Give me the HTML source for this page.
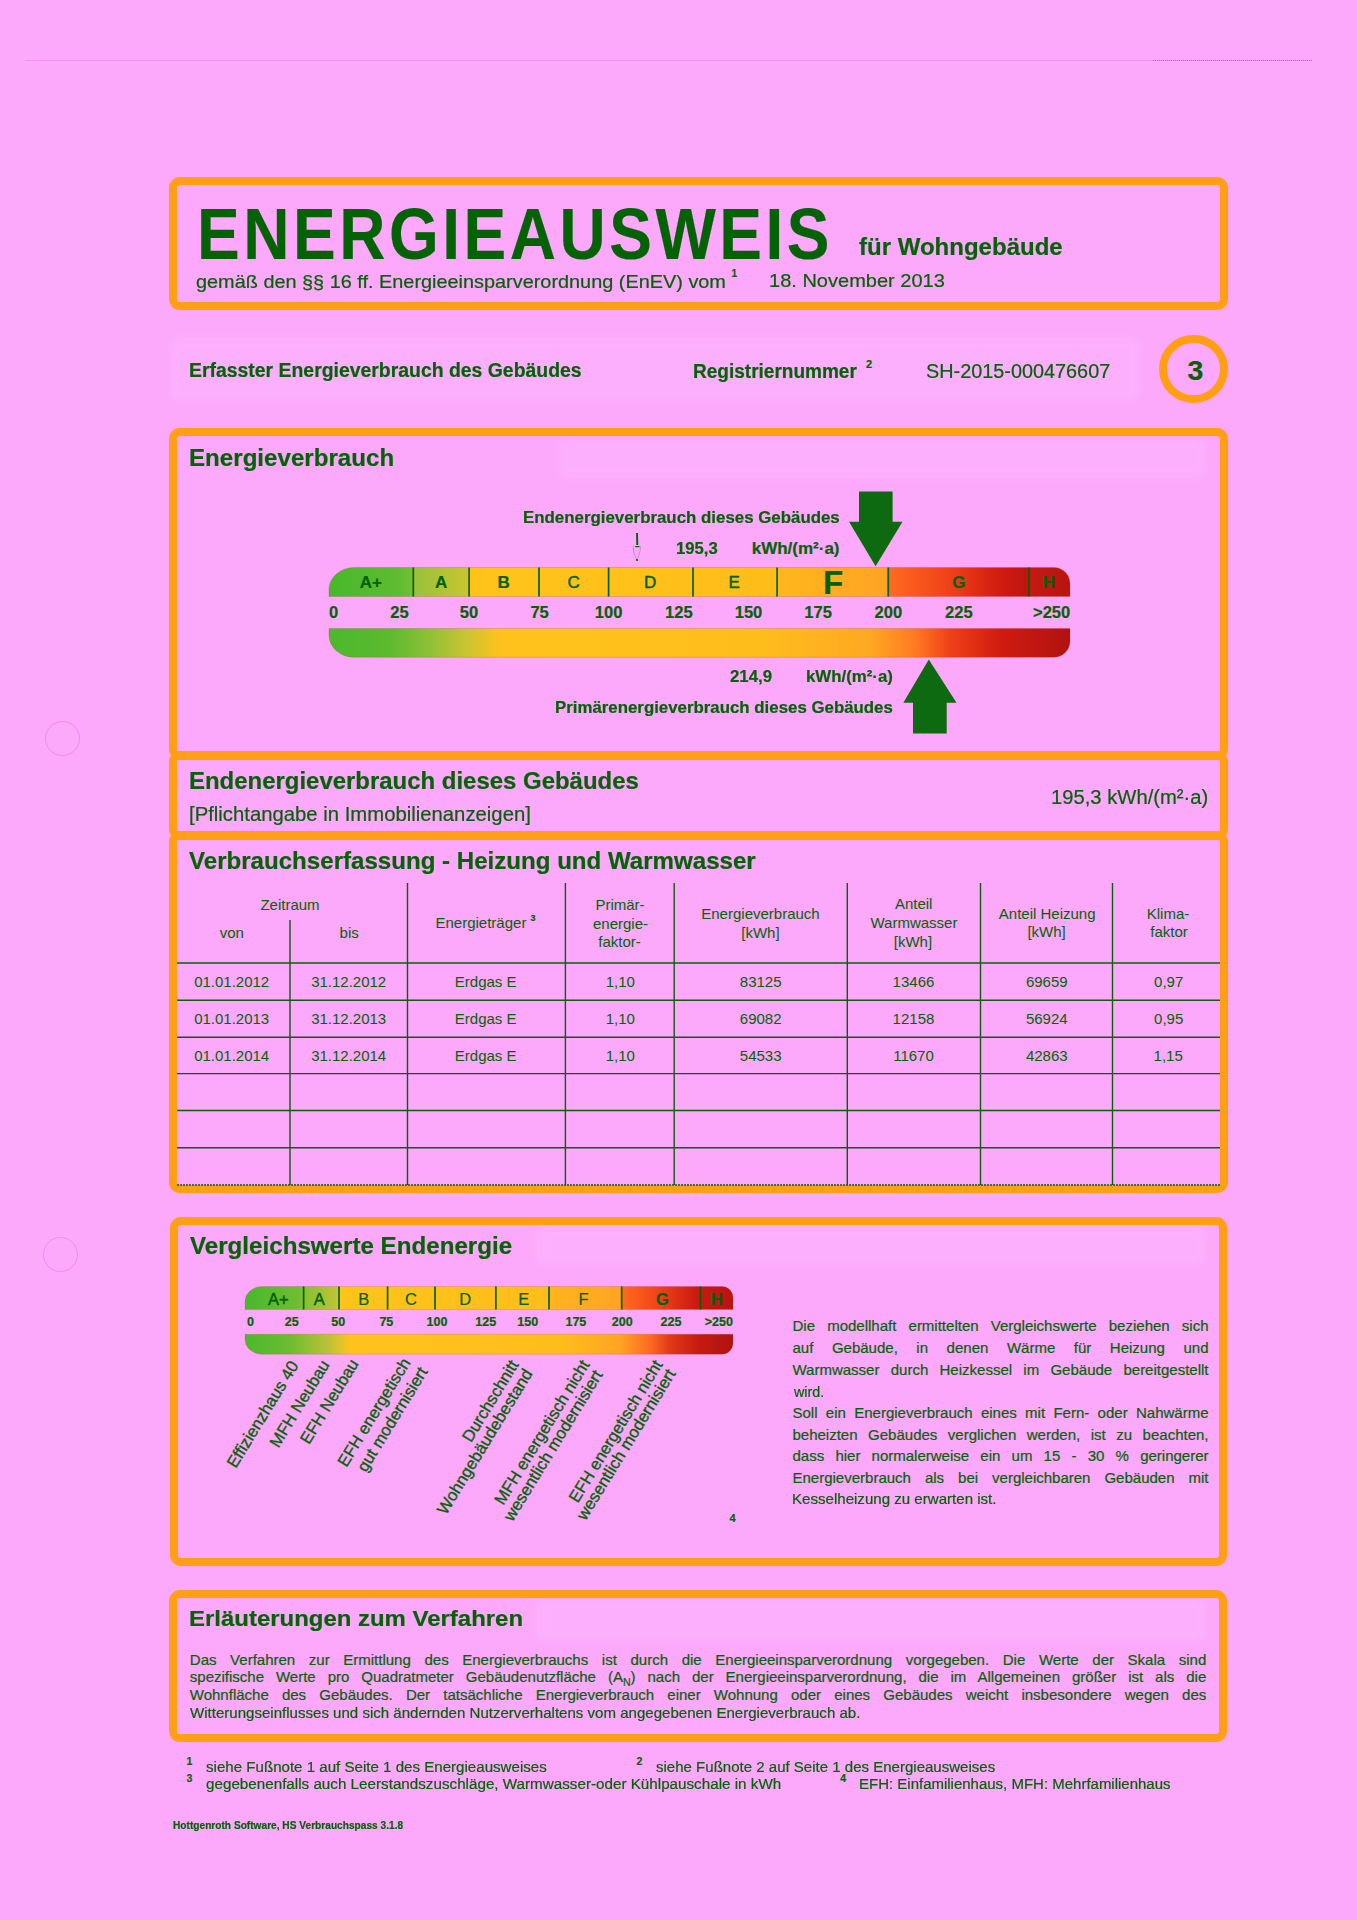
<!DOCTYPE html>
<html><head><meta charset="utf-8"><title>Energieausweis</title>
<style>
html,body{margin:0;padding:0}
body{width:1357px;height:1920px;background:#fca9fc;position:relative;overflow:hidden;font-family:'Liberation Sans', Arial, Helvetica, sans-serif;color:#036203}
.t{position:absolute;white-space:pre;display:block;transform-origin:0 0;-webkit-text-stroke:0.2px #036203}
.j{position:absolute;white-space:nowrap;-webkit-text-stroke:0.2px #036203}
</style></head><body>
<div style="position:absolute;left:25px;top:59.5px;width:1287px;height:1.5px;background:#f08cf0;opacity:.8"></div>
<div style="position:absolute;left:1153px;top:59.7px;width:159px;height:1px;border-top:1px dotted #8a6a9a;opacity:.7"></div>
<div style="position:absolute;left:45px;top:720.5px;width:33px;height:33px;border:1.2px solid #ee8cee;border-radius:50%"></div>
<div style="position:absolute;left:42.5px;top:1236.5px;width:33px;height:33px;border:1.2px solid #ee8cee;border-radius:50%"></div>
<div style="position:absolute;left:171px;top:338px;width:968px;height:62px;background:#ffc4ff;opacity:.25;filter:blur(3px);border-radius:6px"></div>
<div style="position:absolute;left:560px;top:440px;width:645px;height:38px;background:#ffc4ff;opacity:.25;filter:blur(3px);border-radius:6px"></div>
<div style="position:absolute;left:537px;top:1226px;width:668px;height:38px;background:#ffc4ff;opacity:.25;filter:blur(3px);border-radius:6px"></div>
<div style="position:absolute;left:537px;top:1600px;width:668px;height:40px;background:#ffc4ff;opacity:.25;filter:blur(3px);border-radius:6px"></div>
<div style="position:absolute;left:169.2px;top:177.4px;width:1042.8px;height:116.6px;border:8px solid #ff9f14;border-radius:11px"></div>
<div style="position:absolute;left:1159px;top:334.5px;width:52.5px;height:52.5px;border:8.5px solid #ff9f14;border-radius:50%"></div>
<div style="position:absolute;left:169px;top:428px;width:1043px;height:316px;border:8px solid #ff9f14;border-radius:11px"></div>
<div style="position:absolute;left:169px;top:751px;width:1043px;height:72.5px;border:8px solid #ff9f14;border-radius:11px"></div>
<div style="position:absolute;left:169px;top:830.5px;width:1043px;height:346.29999999999995px;border:8px solid #ff9f14;border-radius:11px"></div>
<svg style="position:absolute;left:0;top:0" width="1357" height="1920" viewBox="0 0 1357 1920"><defs><linearGradient id="gta" gradientUnits="userSpaceOnUse" x1="329" y1="0" x2="1070" y2="0"><stop offset="0" stop-color="#48b82c"/><stop offset="0.0958" stop-color="#60bb30"/><stop offset="0.112" stop-color="#78bf34"/><stop offset="0.1147" stop-color="#98c23a"/><stop offset="0.1862" stop-color="#c8c430"/><stop offset="0.1903" stop-color="#ffc41a"/><stop offset="0.6019" stop-color="#ffbd1a"/><stop offset="0.6073" stop-color="#ffb61c"/><stop offset="0.7517" stop-color="#ffa424"/><stop offset="0.7571" stop-color="#ff6a20"/><stop offset="0.8381" stop-color="#f04018"/><stop offset="0.9055" stop-color="#d01c10"/><stop offset="0.9433" stop-color="#c01410"/><stop offset="0.9474" stop-color="#c41a12"/><stop offset="1" stop-color="#b81410"/></linearGradient><linearGradient id="gba" gradientUnits="userSpaceOnUse" x1="329" y1="0" x2="1070" y2="0"><stop offset="0" stop-color="#4cb82c"/><stop offset="0.0823" stop-color="#5cba2e"/><stop offset="0.1363" stop-color="#90c036"/><stop offset="0.1835" stop-color="#c8c434"/><stop offset="0.2308" stop-color="#ffc21c"/><stop offset="0.5816" stop-color="#ffbd1c"/><stop offset="0.7301" stop-color="#ffa822"/><stop offset="0.7908" stop-color="#ff7a22"/><stop offset="0.8381" stop-color="#f04018"/><stop offset="0.9055" stop-color="#d01c10"/><stop offset="1" stop-color="#b01210"/></linearGradient></defs><path d="M329,596.5 L329,589.5 A25,22 0 0 1 354,567.5 L1054,567.5 A16,16 0 0 1 1070,583.5 L1070,596.5 Z" fill="url(#gta)" stroke="#8a5a10" stroke-opacity=".25" stroke-width="1.0"/><path d="M329,628.5 L1070,628.5 L1070,641.3 A16,16 0 0 1 1054,657.3 L354,657.3 A25,22 0 0 1 329,635.3 Z" fill="url(#gba)" stroke="#8a5a10" stroke-opacity=".25" stroke-width="1.0"/><line x1="413.3" y1="567.5" x2="413.3" y2="596.5" stroke="#036203" stroke-width="1.7"/><line x1="469.1" y1="567.5" x2="469.1" y2="596.5" stroke="#036203" stroke-width="1.7"/><line x1="539" y1="567.5" x2="539" y2="596.5" stroke="#036203" stroke-width="1.7"/><line x1="608.6" y1="567.5" x2="608.6" y2="596.5" stroke="#036203" stroke-width="1.7"/><line x1="693" y1="567.5" x2="693" y2="596.5" stroke="#036203" stroke-width="1.7"/><line x1="777.1" y1="567.5" x2="777.1" y2="596.5" stroke="#036203" stroke-width="1.7"/><line x1="888.3" y1="567.5" x2="888.3" y2="596.5" stroke="#036203" stroke-width="1.7"/><line x1="1029" y1="567.5" x2="1029" y2="596.5" stroke="#036203" stroke-width="1.7"/></svg>
<svg style="position:absolute;left:0;top:0" width="1357" height="1920"><path d="M859,491.5 L892.6,491.5 L892.6,521.7 L902.5,521.7 L875.6,566.2 L849,521.7 L859,521.7 Z" fill="#0e6a10"/><path d="M928.8,659.6 L956.5,702.8 L946.7,702.8 L946.7,733.5 L913,733.5 L913,702.8 L903.3,702.8 Z" fill="#0e6a10"/><path d="M637,533 L637.3,545" stroke="#036203" stroke-width="1.9" fill="none"/><path d="M635.2,546.6 L639.4,546.6" stroke="#036203" stroke-width="1.2" fill="none"/><path d="M633.4,546 L633.6,552 L637,560.5 L640.2,551 L640.4,546" stroke="#9a7aa6" stroke-width=".7" fill="none" opacity=".8"/><circle cx="637" cy="560" r="1.1" fill="#036203"/></svg>
<svg style="position:absolute;left:0;top:0" width="1357" height="1920"><line x1="177" y1="963" x2="1220" y2="963" stroke="#0c5c0c" stroke-width="1.4"/><line x1="177" y1="1000.3" x2="1220" y2="1000.3" stroke="#0c5c0c" stroke-width="1.4"/><line x1="177" y1="1037.3" x2="1220" y2="1037.3" stroke="#0c5c0c" stroke-width="1.4"/><line x1="177" y1="1073.6" x2="1220" y2="1073.6" stroke="#0c5c0c" stroke-width="1.4"/><line x1="177" y1="1110.5" x2="1220" y2="1110.5" stroke="#0c5c0c" stroke-width="1.4"/><line x1="177" y1="1147.7" x2="1220" y2="1147.7" stroke="#0c5c0c" stroke-width="1.4"/><line x1="177" y1="1185" x2="1220" y2="1185" stroke="#0c5c0c" stroke-width="1.4" stroke-dasharray="2 1"/><line x1="290" y1="920" x2="290" y2="1185" stroke="#0c5c0c" stroke-width="1.4"/><line x1="407.5" y1="883" x2="407.5" y2="1185" stroke="#0c5c0c" stroke-width="1.4"/><line x1="565.4" y1="883" x2="565.4" y2="1185" stroke="#0c5c0c" stroke-width="1.4"/><line x1="674.2" y1="883" x2="674.2" y2="1185" stroke="#0c5c0c" stroke-width="1.4"/><line x1="847.3" y1="883" x2="847.3" y2="1185" stroke="#0c5c0c" stroke-width="1.4"/><line x1="980.5" y1="883" x2="980.5" y2="1185" stroke="#0c5c0c" stroke-width="1.4"/><line x1="1112.5" y1="883" x2="1112.5" y2="1185" stroke="#0c5c0c" stroke-width="1.4"/></svg>
<div style="position:absolute;left:169.5px;top:1217px;width:1041.5px;height:333px;border:8px solid #ff9f14;border-radius:11px"></div>
<svg style="position:absolute;left:0;top:0" width="1357" height="1920" viewBox="0 0 1357 1920"><defs><linearGradient id="gtb" gradientUnits="userSpaceOnUse" x1="245" y1="0" x2="733" y2="0"><stop offset="0" stop-color="#48b82c"/><stop offset="0.1127" stop-color="#70be32"/><stop offset="0.1168" stop-color="#80c034"/><stop offset="0.1885" stop-color="#c0c434"/><stop offset="0.1947" stop-color="#ffc41a"/><stop offset="0.6209" stop-color="#ffbd1a"/><stop offset="0.627" stop-color="#ffb41c"/><stop offset="0.7684" stop-color="#ffa424"/><stop offset="0.7746" stop-color="#ff6a20"/><stop offset="0.8504" stop-color="#f04018"/><stop offset="0.9303" stop-color="#c81810"/><stop offset="0.9365" stop-color="#c41a12"/><stop offset="1" stop-color="#b81410"/></linearGradient><linearGradient id="gbb" gradientUnits="userSpaceOnUse" x1="245" y1="0" x2="733" y2="0"><stop offset="0" stop-color="#4cb82c"/><stop offset="0.0922" stop-color="#6cbc30"/><stop offset="0.1742" stop-color="#c0c238"/><stop offset="0.2152" stop-color="#ffc21c"/><stop offset="0.6455" stop-color="#ffbd1c"/><stop offset="0.7684" stop-color="#ffa422"/><stop offset="0.8299" stop-color="#ff6a20"/><stop offset="0.8709" stop-color="#e03818"/><stop offset="0.9324" stop-color="#c41a10"/><stop offset="1" stop-color="#b01210"/></linearGradient></defs><path d="M245,1309.5 L245,1301.5 A17,15 0 0 1 262,1286.5 L722,1286.5 A11,11 0 0 1 733,1297.5 L733,1309.5 Z" fill="url(#gtb)" stroke="#8a5a10" stroke-opacity=".25" stroke-width="0.8"/><path d="M245,1334.2 L733,1334.2 L733,1343.2 A11,11 0 0 1 722,1354.2 L262,1354.2 A17,15 0 0 1 245,1339.2 Z" fill="url(#gbb)" stroke="#8a5a10" stroke-opacity=".25" stroke-width="0.8"/><line x1="303.6" y1="1286.5" x2="303.6" y2="1309.5" stroke="#036203" stroke-width="1.7"/><line x1="339" y1="1286.5" x2="339" y2="1309.5" stroke="#036203" stroke-width="1.7"/><line x1="387.6" y1="1286.5" x2="387.6" y2="1309.5" stroke="#036203" stroke-width="1.7"/><line x1="435" y1="1286.5" x2="435" y2="1309.5" stroke="#036203" stroke-width="1.7"/><line x1="495.9" y1="1286.5" x2="495.9" y2="1309.5" stroke="#036203" stroke-width="1.7"/><line x1="549" y1="1286.5" x2="549" y2="1309.5" stroke="#036203" stroke-width="1.7"/><line x1="621.7" y1="1286.5" x2="621.7" y2="1309.5" stroke="#036203" stroke-width="1.7"/><line x1="700.5" y1="1286.5" x2="700.5" y2="1309.5" stroke="#036203" stroke-width="1.7"/></svg>
<div style="position:absolute;left:300px;top:1351.95px;font-size:16.6px;line-height:16.6px;white-space:pre;transform-origin:0 14.05px;transform:rotate(-58.5deg) translateX(-100%);color:#036203;-webkit-text-stroke:0.35px #036203">Effizienzhaus 40</div>
<div style="position:absolute;left:331px;top:1350.95px;font-size:16.6px;line-height:16.6px;white-space:pre;transform-origin:0 14.05px;transform:rotate(-58.5deg) translateX(-100%);color:#036203;-webkit-text-stroke:0.35px #036203">MFH Neubau</div>
<div style="position:absolute;left:359.5px;top:1349.95px;font-size:16.6px;line-height:16.6px;white-space:pre;transform-origin:0 14.05px;transform:rotate(-58.5deg) translateX(-100%);color:#036203;-webkit-text-stroke:0.35px #036203">EFH Neubau</div>
<div style="position:absolute;left:412px;top:1348.95px;font-size:16.6px;line-height:16.6px;white-space:pre;transform-origin:0 14.05px;transform:rotate(-58.5deg) translateX(-100%);color:#036203;-webkit-text-stroke:0.35px #036203">EFH energetisch</div>
<div style="position:absolute;left:428.5px;top:1357.95px;font-size:16.6px;line-height:16.6px;white-space:pre;transform-origin:0 14.05px;transform:rotate(-58.5deg) translateX(-100%);color:#036203;-webkit-text-stroke:0.35px #036203">gut modernisiert</div>
<div style="position:absolute;left:520px;top:1351.45px;font-size:16.6px;line-height:16.6px;white-space:pre;transform-origin:0 14.05px;transform:rotate(-58.5deg) translateX(-100%);color:#036203;-webkit-text-stroke:0.35px #036203">Durchschnitt</div>
<div style="position:absolute;left:533.5px;top:1359.95px;font-size:16.6px;line-height:16.6px;white-space:pre;transform-origin:0 14.05px;transform:rotate(-58.5deg) translateX(-100%);color:#036203;-webkit-text-stroke:0.35px #036203">Wohngebäudebestand</div>
<div style="position:absolute;left:590.5px;top:1351.45px;font-size:16.6px;line-height:16.6px;white-space:pre;transform-origin:0 14.05px;transform:rotate(-58.5deg) translateX(-100%);color:#036203;-webkit-text-stroke:0.35px #036203">MFH energetisch nicht</div>
<div style="position:absolute;left:604px;top:1360.95px;font-size:16.6px;line-height:16.6px;white-space:pre;transform-origin:0 14.05px;transform:rotate(-58.5deg) translateX(-100%);color:#036203;-webkit-text-stroke:0.35px #036203">wesentlich modernisiert</div>
<div style="position:absolute;left:663.5px;top:1351.45px;font-size:16.6px;line-height:16.6px;white-space:pre;transform-origin:0 14.05px;transform:rotate(-58.5deg) translateX(-100%);color:#036203;-webkit-text-stroke:0.35px #036203">EFH energetisch nicht</div>
<div style="position:absolute;left:677px;top:1359.95px;font-size:16.6px;line-height:16.6px;white-space:pre;transform-origin:0 14.05px;transform:rotate(-58.5deg) translateX(-100%);color:#036203;-webkit-text-stroke:0.35px #036203">wesentlich modernisiert</div>
<div class="j" style="left:792.5px;top:1318.20px;width:416px;font-size:15px;line-height:15px;text-align:justify;text-align-last:justify">Die modellhaft ermittelten Vergleichswerte beziehen sich</div>
<div class="j" style="left:792.5px;top:1340.10px;width:416px;font-size:15px;line-height:15px;text-align:justify;text-align-last:justify">auf Gebäude, in denen Wärme für Heizung und</div>
<div class="j" style="left:792.5px;top:1361.70px;width:416px;font-size:15px;line-height:15px;text-align:justify;text-align-last:justify">Warmwasser durch Heizkessel im Gebäude bereitgestellt</div>
<div class="j" style="left:792.5px;top:1404.80px;width:416px;font-size:15px;line-height:15px;text-align:justify;text-align-last:justify">Soll ein Energieverbrauch eines mit Fern- oder Nahwärme</div>
<div class="j" style="left:792.5px;top:1426.80px;width:416px;font-size:15px;line-height:15px;text-align:justify;text-align-last:justify">beheizten Gebäudes verglichen werden, ist zu beachten,</div>
<div class="j" style="left:792.5px;top:1448.30px;width:416px;font-size:15px;line-height:15px;text-align:justify;text-align-last:justify">dass hier normalerweise ein um 15 - 30 % geringerer</div>
<div class="j" style="left:792.5px;top:1469.60px;width:416px;font-size:15px;line-height:15px;text-align:justify;text-align-last:justify">Energieverbrauch als bei vergleichbaren Gebäuden mit</div>
<div style="position:absolute;left:168.5px;top:1589.5px;width:1042.0px;height:136.5px;border:8px solid #ff9f14;border-radius:11px"></div>
<div class="j" style="left:189.8px;top:1651.70px;width:1016.5px;font-size:15px;line-height:15px;text-align:justify;text-align-last:justify">Das Verfahren zur Ermittlung des Energieverbrauchs ist durch die Energieeinsparverordnung vorgegeben. Die Werte der Skala sind</div>
<div class="j" style="left:189.8px;top:1669.20px;width:1016.5px;font-size:15px;line-height:15px;text-align:justify;text-align-last:justify">spezifische Werte pro Quadratmeter Gebäudenutzfläche (A<sub style="font-size:70%;line-height:0">N</sub>) nach der Energieeinsparverordnung, die im Allgemeinen größer ist als die</div>
<div class="j" style="left:189.8px;top:1686.70px;width:1016.5px;font-size:15px;line-height:15px;text-align:justify;text-align-last:justify">Wohnfläche des Gebäudes. Der tatsächliche Energieverbrauch einer Wohnung oder eines Gebäudes weicht insbesondere wegen des</div>
<span class="t" style="left:197.46px;top:197.60px;font-size:72.3px;line-height:72.3px;font-weight:bold;letter-spacing:4px;transform:scaleX(0.8849);">ENERGIEAUSWEIS</span>
<span class="t" style="left:859.00px;top:235.39px;font-size:24.7px;line-height:24.7px;font-weight:bold;transform:scaleX(0.9730);">für Wohngebäude</span>
<span class="t" style="left:196.00px;top:272.94px;font-size:18.5px;line-height:18.5px;transform:scaleX(1.0743);">gemäß den §§ 16 ff. Energieeinsparverordnung (EnEV) vom</span>
<span class="t" style="left:731.50px;top:269.04px;font-size:10px;line-height:10px;font-weight:bold;">1</span>
<span class="t" style="left:769.42px;top:272.14px;font-size:18.5px;line-height:18.5px;transform:scaleX(1.0825);">18. November 2013</span>
<span class="t" style="left:188.53px;top:360.07px;font-size:20px;line-height:20px;font-weight:bold;transform:scaleX(0.9703);">Erfasster Energieverbrauch des Gebäudes</span>
<span class="t" style="left:693.45px;top:360.57px;font-size:20px;line-height:20px;font-weight:bold;transform:scaleX(0.9511);">Registriernummer</span>
<span class="t" style="left:866.00px;top:359.19px;font-size:11px;line-height:11px;font-weight:bold;">2</span>
<span class="t" style="left:926.40px;top:360.57px;font-size:20px;line-height:20px;transform:scaleX(0.9920);">SH-2015-000476607</span>
<span class="t" style="left:1187.50px;top:355.87px;font-size:28.5px;line-height:28.5px;font-weight:bold;">3</span>
<span class="t" style="left:188.67px;top:446.71px;font-size:23.5px;line-height:23.5px;font-weight:bold;transform:scaleX(1.0265);">Energieverbrauch</span>
<span class="t" style="left:522.61px;top:508.91px;font-size:17px;line-height:17px;font-weight:bold;transform:scaleX(0.9918);">Endenergieverbrauch dieses Gebäudes</span>
<span class="t" style="left:676.02px;top:539.81px;font-size:17px;line-height:17px;font-weight:bold;transform:scaleX(0.9808);">195,3</span>
<span class="t" style="left:751.70px;top:539.81px;font-size:17px;line-height:17px;font-weight:bold;">kWh/(m²·a)</span>
<span class="t" style="left:730.20px;top:668.21px;font-size:17px;line-height:17px;font-weight:bold;transform:scaleX(0.9908);">214,9</span>
<span class="t" style="left:806.31px;top:668.21px;font-size:17px;line-height:17px;font-weight:bold;transform:scaleX(0.9900);">kWh/(m²·a)</span>
<span class="t" style="left:555.21px;top:698.61px;font-size:17px;line-height:17px;font-weight:bold;transform:scaleX(0.9904);">Primärenergieverbrauch dieses Gebäudes</span>
<span class="t" style="left:359.66px;top:573.61px;font-size:17px;line-height:17px;font-weight:bold;">A+</span>
<span class="t" style="left:435.00px;top:573.61px;font-size:17px;line-height:17px;font-weight:bold;">A</span>
<span class="t" style="left:497.50px;top:573.61px;font-size:17px;line-height:17px;font-weight:bold;">B</span>
<span class="t" style="left:567.60px;top:573.61px;font-size:17px;line-height:17px;-webkit-text-stroke:0.45px #036203;">C</span>
<span class="t" style="left:644.10px;top:573.61px;font-size:17px;line-height:17px;-webkit-text-stroke:0.45px #036203;">D</span>
<span class="t" style="left:728.60px;top:573.61px;font-size:17px;line-height:17px;-webkit-text-stroke:0.45px #036203;">E</span>
<span class="t" style="left:952.30px;top:573.61px;font-size:17px;line-height:17px;font-weight:bold;">G</span>
<span class="t" style="left:1042.80px;top:573.61px;font-size:17px;line-height:17px;font-weight:bold;">H</span>
<span class="t" style="left:822.90px;top:565.57px;font-size:33px;line-height:33px;font-weight:bold;">F</span>
<span class="t" style="left:390.21px;top:604.43px;font-size:16.5px;line-height:16.5px;font-weight:bold;">25</span>
<span class="t" style="left:459.81px;top:604.43px;font-size:16.5px;line-height:16.5px;font-weight:bold;">50</span>
<span class="t" style="left:530.41px;top:604.43px;font-size:16.5px;line-height:16.5px;font-weight:bold;">75</span>
<span class="t" style="left:594.82px;top:604.43px;font-size:16.5px;line-height:16.5px;font-weight:bold;">100</span>
<span class="t" style="left:665.12px;top:604.43px;font-size:16.5px;line-height:16.5px;font-weight:bold;">125</span>
<span class="t" style="left:734.72px;top:604.43px;font-size:16.5px;line-height:16.5px;font-weight:bold;">150</span>
<span class="t" style="left:804.32px;top:604.43px;font-size:16.5px;line-height:16.5px;font-weight:bold;">175</span>
<span class="t" style="left:874.62px;top:604.43px;font-size:16.5px;line-height:16.5px;font-weight:bold;">200</span>
<span class="t" style="left:945.12px;top:604.43px;font-size:16.5px;line-height:16.5px;font-weight:bold;">225</span>
<span class="t" style="left:329.00px;top:604.43px;font-size:16.5px;line-height:16.5px;font-weight:bold;">0</span>
<span class="t" style="left:1033.01px;top:604.43px;font-size:16.5px;line-height:16.5px;font-weight:bold;">&gt;250</span>
<span class="t" style="left:188.82px;top:769.26px;font-size:24.5px;line-height:24.5px;font-weight:bold;transform:scaleX(0.9773);">Endenergieverbrauch dieses Gebäudes</span>
<span class="t" style="left:188.80px;top:804.33px;font-size:20.4px;line-height:20.4px;transform:scaleX(0.9953);">[Pflichtangabe in Immobilienanzeigen]</span>
<span class="t" style="left:1051.39px;top:787.27px;font-size:20px;line-height:20px;transform:scaleX(1.0109);">195,3 kWh/(m²·a)</span>
<span class="t" style="left:188.60px;top:848.76px;font-size:24.5px;line-height:24.5px;font-weight:bold;transform:scaleX(0.9833);">Verbrauchserfassung - Heizung und Warmwasser</span>
<span class="t" style="left:260.41px;top:896.50px;font-size:15px;line-height:15px;-webkit-text-stroke:0;">Zeitraum</span>
<span class="t" style="left:219.78px;top:925.10px;font-size:15px;line-height:15px;-webkit-text-stroke:0;">von</span>
<span class="t" style="left:339.56px;top:925.10px;font-size:15px;line-height:15px;-webkit-text-stroke:0;">bis</span>
<span class="t" style="left:435.50px;top:915.20px;font-size:15px;line-height:15px;-webkit-text-stroke:0;">Energieträger</span>
<span class="t" style="left:530.50px;top:913.88px;font-size:9px;line-height:9px;font-weight:bold;">3</span>
<span class="t" style="left:595.42px;top:897.10px;font-size:15px;line-height:15px;-webkit-text-stroke:0;">Primär-</span>
<span class="t" style="left:592.98px;top:915.50px;font-size:15px;line-height:15px;-webkit-text-stroke:0;">energie-</span>
<span class="t" style="left:598.24px;top:933.80px;font-size:15px;line-height:15px;-webkit-text-stroke:0;">faktor-</span>
<span class="t" style="left:701.27px;top:905.60px;font-size:15px;line-height:15px;-webkit-text-stroke:0;">Energieverbrauch</span>
<span class="t" style="left:741.22px;top:924.80px;font-size:15px;line-height:15px;-webkit-text-stroke:0;">[kWh]</span>
<span class="t" style="left:894.91px;top:896.20px;font-size:15px;line-height:15px;-webkit-text-stroke:0;">Anteil</span>
<span class="t" style="left:870.52px;top:915.10px;font-size:15px;line-height:15px;-webkit-text-stroke:0;">Warmwasser</span>
<span class="t" style="left:893.72px;top:933.80px;font-size:15px;line-height:15px;-webkit-text-stroke:0;">[kWh]</span>
<span class="t" style="left:998.81px;top:905.60px;font-size:15px;line-height:15px;-webkit-text-stroke:0;">Anteil Heizung</span>
<span class="t" style="left:1027.42px;top:924.30px;font-size:15px;line-height:15px;-webkit-text-stroke:0;">[kWh]</span>
<span class="t" style="left:1146.75px;top:905.60px;font-size:15px;line-height:15px;-webkit-text-stroke:0;">Klima-</span>
<span class="t" style="left:1150.24px;top:923.80px;font-size:15px;line-height:15px;-webkit-text-stroke:0;">faktor</span>
<span class="t" style="left:194.13px;top:973.90px;font-size:15px;line-height:15px;-webkit-text-stroke:0;">01.01.2012</span>
<span class="t" style="left:311.13px;top:973.90px;font-size:15px;line-height:15px;-webkit-text-stroke:0;">31.12.2012</span>
<span class="t" style="left:454.85px;top:973.90px;font-size:15px;line-height:15px;-webkit-text-stroke:0;">Erdgas E</span>
<span class="t" style="left:605.77px;top:973.90px;font-size:15px;line-height:15px;-webkit-text-stroke:0;">1,10</span>
<span class="t" style="left:739.82px;top:973.90px;font-size:15px;line-height:15px;-webkit-text-stroke:0;">83125</span>
<span class="t" style="left:892.62px;top:973.90px;font-size:15px;line-height:15px;-webkit-text-stroke:0;">13466</span>
<span class="t" style="left:1025.92px;top:973.90px;font-size:15px;line-height:15px;-webkit-text-stroke:0;">69659</span>
<span class="t" style="left:1154.07px;top:973.90px;font-size:15px;line-height:15px;-webkit-text-stroke:0;">0,97</span>
<span class="t" style="left:194.13px;top:1011.00px;font-size:15px;line-height:15px;-webkit-text-stroke:0;">01.01.2013</span>
<span class="t" style="left:311.13px;top:1011.00px;font-size:15px;line-height:15px;-webkit-text-stroke:0;">31.12.2013</span>
<span class="t" style="left:454.85px;top:1011.00px;font-size:15px;line-height:15px;-webkit-text-stroke:0;">Erdgas E</span>
<span class="t" style="left:605.77px;top:1011.00px;font-size:15px;line-height:15px;-webkit-text-stroke:0;">1,10</span>
<span class="t" style="left:739.82px;top:1011.00px;font-size:15px;line-height:15px;-webkit-text-stroke:0;">69082</span>
<span class="t" style="left:892.62px;top:1011.00px;font-size:15px;line-height:15px;-webkit-text-stroke:0;">12158</span>
<span class="t" style="left:1025.92px;top:1011.00px;font-size:15px;line-height:15px;-webkit-text-stroke:0;">56924</span>
<span class="t" style="left:1154.07px;top:1011.00px;font-size:15px;line-height:15px;-webkit-text-stroke:0;">0,95</span>
<span class="t" style="left:194.13px;top:1047.90px;font-size:15px;line-height:15px;-webkit-text-stroke:0;">01.01.2014</span>
<span class="t" style="left:311.13px;top:1047.90px;font-size:15px;line-height:15px;-webkit-text-stroke:0;">31.12.2014</span>
<span class="t" style="left:454.85px;top:1047.90px;font-size:15px;line-height:15px;-webkit-text-stroke:0;">Erdgas E</span>
<span class="t" style="left:605.77px;top:1047.90px;font-size:15px;line-height:15px;-webkit-text-stroke:0;">1,10</span>
<span class="t" style="left:739.82px;top:1047.90px;font-size:15px;line-height:15px;-webkit-text-stroke:0;">54533</span>
<span class="t" style="left:893.17px;top:1047.90px;font-size:15px;line-height:15px;-webkit-text-stroke:0;">11670</span>
<span class="t" style="left:1025.92px;top:1047.90px;font-size:15px;line-height:15px;-webkit-text-stroke:0;">42863</span>
<span class="t" style="left:1153.57px;top:1047.90px;font-size:15px;line-height:15px;-webkit-text-stroke:0;">1,15</span>
<span class="t" style="left:189.50px;top:1235.03px;font-size:23px;line-height:23px;font-weight:bold;transform:scaleX(1.0500);">Vergleichswerte Endenergie</span>
<span class="t" style="left:268.00px;top:1291.33px;font-size:16.5px;line-height:16.5px;-webkit-text-stroke:0.5px #036203;">A+</span>
<span class="t" style="left:313.70px;top:1291.33px;font-size:16.5px;line-height:16.5px;-webkit-text-stroke:0.5px #036203;">A</span>
<span class="t" style="left:358.30px;top:1291.33px;font-size:16.5px;line-height:16.5px;">B</span>
<span class="t" style="left:405.00px;top:1291.33px;font-size:16.5px;line-height:16.5px;">C</span>
<span class="t" style="left:459.20px;top:1291.33px;font-size:16.5px;line-height:16.5px;">D</span>
<span class="t" style="left:518.20px;top:1291.33px;font-size:16.5px;line-height:16.5px;">E</span>
<span class="t" style="left:578.40px;top:1291.33px;font-size:16.5px;line-height:16.5px;">F</span>
<span class="t" style="left:656.00px;top:1291.33px;font-size:16.5px;line-height:16.5px;font-weight:bold;">G</span>
<span class="t" style="left:710.80px;top:1291.33px;font-size:16.5px;line-height:16.5px;font-weight:bold;">H</span>
<span class="t" style="left:284.82px;top:1316.12px;font-size:12.5px;line-height:12.5px;font-weight:bold;">25</span>
<span class="t" style="left:331.32px;top:1316.12px;font-size:12.5px;line-height:12.5px;font-weight:bold;">50</span>
<span class="t" style="left:379.42px;top:1316.12px;font-size:12.5px;line-height:12.5px;font-weight:bold;">75</span>
<span class="t" style="left:426.55px;top:1316.12px;font-size:12.5px;line-height:12.5px;font-weight:bold;">100</span>
<span class="t" style="left:475.25px;top:1316.12px;font-size:12.5px;line-height:12.5px;font-weight:bold;">125</span>
<span class="t" style="left:517.35px;top:1316.12px;font-size:12.5px;line-height:12.5px;font-weight:bold;">150</span>
<span class="t" style="left:565.45px;top:1316.12px;font-size:12.5px;line-height:12.5px;font-weight:bold;">175</span>
<span class="t" style="left:611.85px;top:1316.12px;font-size:12.5px;line-height:12.5px;font-weight:bold;">200</span>
<span class="t" style="left:660.55px;top:1316.12px;font-size:12.5px;line-height:12.5px;font-weight:bold;">225</span>
<span class="t" style="left:247.00px;top:1316.12px;font-size:12.5px;line-height:12.5px;font-weight:bold;">0</span>
<span class="t" style="left:704.80px;top:1316.12px;font-size:12.5px;line-height:12.5px;font-weight:bold;">&gt;250</span>
<span class="t" style="left:729.50px;top:1512.69px;font-size:11px;line-height:11px;font-weight:bold;">4</span>
<span class="t" style="left:793.86px;top:1383.60px;font-size:15px;line-height:15px;transform:scaleX(0.9555);">wird.</span>
<span class="t" style="left:791.89px;top:1490.80px;font-size:15px;line-height:15px;transform:scaleX(1.0051);">Kesselheizung zu erwarten ist.</span>
<span class="t" style="left:188.74px;top:1607.95px;font-size:22.5px;line-height:22.5px;font-weight:bold;transform:scaleX(1.0645);">Erläuterungen zum Verfahren</span>
<span class="t" style="left:189.80px;top:1704.60px;font-size:15px;line-height:15px;transform:scaleX(1.0037);">Witterungseinflusses und sich ändernden Nutzerverhaltens vom angegebenen Energieverbrauch ab.</span>
<span class="t" style="left:186.50px;top:1755.61px;font-size:10.5px;line-height:10.5px;font-weight:bold;">1</span>
<span class="t" style="left:205.90px;top:1758.65px;font-size:15.3px;line-height:15.3px;transform:scaleX(0.9870);">siehe Fußnote 1 auf Seite 1 des Energieausweises</span>
<span class="t" style="left:636.60px;top:1755.61px;font-size:10.5px;line-height:10.5px;font-weight:bold;">2</span>
<span class="t" style="left:655.50px;top:1758.65px;font-size:15.3px;line-height:15.3px;transform:scaleX(0.9824);">siehe Fußnote 2 auf Seite 1 des Energieausweises</span>
<span class="t" style="left:186.50px;top:1773.11px;font-size:10.5px;line-height:10.5px;font-weight:bold;">3</span>
<span class="t" style="left:205.90px;top:1775.75px;font-size:15.3px;line-height:15.3px;transform:scaleX(0.9943);">gegebenenfalls auch Leerstandszuschläge, Warmwasser-oder Kühlpauschale in kWh</span>
<span class="t" style="left:840.30px;top:1773.11px;font-size:10.5px;line-height:10.5px;font-weight:bold;">4</span>
<span class="t" style="left:858.72px;top:1775.75px;font-size:15.3px;line-height:15.3px;transform:scaleX(0.9798);">EFH: Einfamilienhaus, MFH: Mehrfamilienhaus</span>
<span class="t" style="left:173.00px;top:1819.69px;font-size:11px;line-height:11px;font-weight:bold;transform:scaleX(0.9226);">Hottgenroth Software, HS Verbrauchspass 3.1.8</span>
</body></html>
